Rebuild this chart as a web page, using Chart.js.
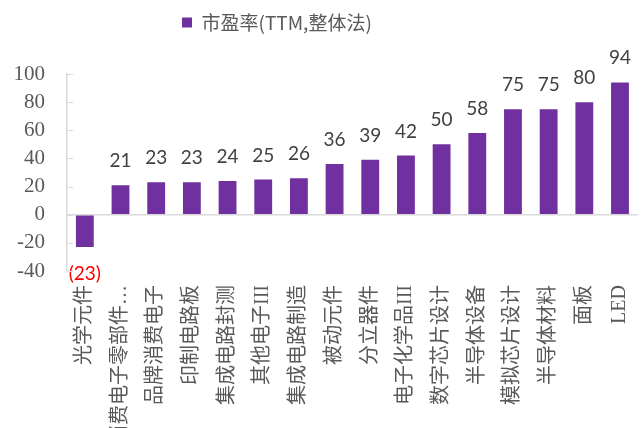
<!DOCTYPE html>
<html>
<head>
<meta charset="utf-8">
<script src="https://cdn.jsdelivr.net/npm/chart.js@4.4.0/dist/chart.umd.min.js"></script>
<style>
	html, body { margin: 0; padding: 0; background: #fff; overflow: hidden; }
	#cadre { width: 650px; height: 428px; }
</style>
</head>
<body>
<div id="cadre"><canvas id="graphique-pe"></canvas></div>
<script>
// Catégories (secteurs) et valeurs du PER
const categories = ["光学元件", "消费电子零部件…", "品牌消费电子", "印制电路板", "集成电路封测", "其他电子III",
	"集成电路制造", "被动元件", "分立器件", "电子化学品III", "数字芯片设计", "半导体设备",
	"模拟芯片设计", "半导体材料", "面板", "LED"];
const valeurs = [-23, 21, 23, 23, 24, 25, 26, 36, 39, 42, 50, 58, 75, 75, 80, 94];
const nomSerie = "市盈率(TTM,整体法)";
// Graduations de l'axe vertical
const yMin = -40;
const yMax = 100;
const yPas = 20;

const violet = "#7030A0";
const grisTexte = "#595959";
const grisAxe = "#d9d9d9";

// Position de la légende et petites graduations tournées vers l'intérieur
const ajustements = {
	id: "ajustements",
	beforeDraw(chart) {
		const lg = chart.legend;
		const w = lg.right - lg.left;
		lg.left = 169;
		lg.right = lg.left + w;
		lg.top = 0;
	},
	afterDraw(chart) {
		const ctx = chart.ctx;
		const y = chart.scales.y;
		ctx.save();
		ctx.strokeStyle = grisAxe;
		ctx.lineWidth = 1;
		for (const t of y.ticks) {
			const py = Math.round(y.getPixelForValue(t.value)) + 0.5;
			ctx.beginPath();
			ctx.moveTo(chart.chartArea.left, py);
			ctx.lineTo(chart.chartArea.left + 6, py);
			ctx.stroke();
		}
		ctx.restore();
	}
};

// Étiquettes de valeur au-dessus des barres
const etiquettes = {
	id: "etiquettes",
	afterDatasetsDraw(chart) {
		const ctx = chart.ctx;
		const barres = chart.getDatasetMeta(0).data;
		ctx.save();
		ctx.font = "19px Lato";
		ctx.textAlign = "center";
		for (let i = 0; i < barres.length; i++) {
			const v = valeurs[i];
			if (v >= 0) {
				ctx.fillStyle = "#404040";
				ctx.textBaseline = "alphabetic";
				ctx.fillText(String(v), barres[i].x, barres[i].y - 18);
			} else {
				ctx.fillStyle = "#ff0000";
				ctx.textBaseline = "middle";
				ctx.fillText("(" + Math.abs(v) + ")", barres[i].x, chart.chartArea.bottom + 3);
			}
		}
		ctx.restore();
	}
};

const data = {
	labels: categories,
	datasets: [{
		label: nomSerie,
		data: valeurs,
		backgroundColor: violet,
		barPercentage: 0.5,
		categoryPercentage: 1.0,
	}],
};

const config = {
	type: "bar",
	data: data,
	options: {
		responsive: true,
		maintainAspectRatio: false,
		animation: false,
		devicePixelRatio: 1,
		layout: { padding: { top: 32, right: 0, left: 0, bottom: 0 } },
		plugins: {
			legend: {
				align: "start",
				labels: {
					boxWidth: 10,
					boxHeight: 10,
					padding: 13,
					color: grisTexte,
					font: { family: "'Noto Sans CJK SC'", size: 19 },
				},
			},
			tooltip: { enabled: false },
		},
		scales: {
			x: {
				grid: { display: false },
				border: { display: false },
				ticks: {
					autoSkip: false,
					minRotation: 90,
					maxRotation: 90,
					padding: 6,
					color: grisTexte,
					font: { family: "'Liberation Serif', 'Noto Sans CJK SC'", size: 20 },
				},
				afterFit: (scale) => { scale.height = 157; },
			},
			y: {
				min: yMin,
				max: yMax,
				ticks: {
					stepSize: yPas,
					autoSkip: false,
					padding: 22,
					color: grisTexte,
					font: { family: "'Liberation Serif'", size: 21 },
				},
				grid: {
					drawTicks: false,
					color: (c) => (c.tick && c.tick.value === 0 ? grisAxe : "rgba(0,0,0,0)"),
					lineWidth: 1.5,
				},
				border: { display: true, color: grisAxe, width: 1.5 },
				afterFit: (scale) => { scale.width = 67; },
			},
		},
	},
	plugins: [ajustements, etiquettes],
};

const graphique = new Chart(document.querySelector("#graphique-pe"), config);
</script>
</body>
</html>
